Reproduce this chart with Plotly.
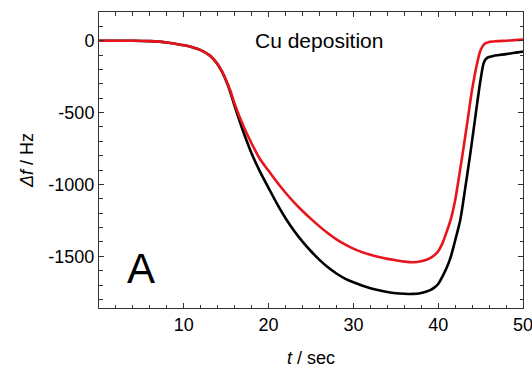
import plotly.graph_objects as go

# time axis (s) and frequency shift (Hz)
t_black = [0, 2, 4, 6, 8, 10, 11, 12, 13, 13.5, 14, 14.5, 15, 15.5, 16,
           17, 18, 19, 20, 21, 22, 23, 24, 25, 26, 27, 28, 29, 30, 31, 32, 33, 34, 35, 36, 37, 38, 39,
           39.5, 40, 40.5, 41, 41.5, 42, 42.6, 43, 43.8, 44.6, 45, 45.4, 45.8, 46.5, 47, 48, 49, 50]
df_black = [0, 0, 0, -3, -12, -32, -45, -65, -100, -128, -165, -215, -280, -360, -455,
            -630, -785, -913, -1025, -1135, -1235, -1322, -1398, -1465, -1525, -1577, -1620, -1655,
            -1681, -1703, -1722, -1737, -1749, -1757, -1761, -1762, -1755, -1737,
            -1720, -1693, -1641, -1580, -1500, -1390, -1247, -1100, -780, -434, -270, -150, -118,
            -106, -101, -93, -84, -76]

t_red = [0, 2, 4, 6, 8, 10, 11, 12, 13, 13.5, 14, 14.5, 15, 15.5, 16,
         17, 18, 19, 20, 21, 22, 23, 24, 25, 26, 27, 28, 29, 30, 31, 32, 33, 34, 35, 36, 37, 38, 39,
         39.5, 40, 40.5, 41, 41.5, 42, 42.5, 43, 43.5, 44, 44.6, 45, 45.5, 46, 47, 48, 49, 50]
df_red = [0, 0, 0, -3, -12, -32, -45, -65, -100, -128, -165, -213, -275, -350, -440,
          -590, -715, -825, -905, -985, -1058, -1125, -1185, -1240, -1292, -1340, -1382, -1417,
          -1447, -1471, -1490, -1505, -1518, -1528, -1537, -1542, -1535, -1515,
          -1495, -1465, -1410, -1330, -1240, -1110, -930, -740, -540, -340, -155, -65, -20,
          -8, -3, 0, 4, 8]

x_ticks = [10, 20, 30, 40, 50]
y_ticks = [0, -500, -1000, -1500]
y_tick_text = ["0", "-500", "-1000", "-1500"]

FONT = "Liberation Sans, Arial, sans-serif"

fig = go.Figure()
fig.add_trace(go.Scatter(x=t_black, y=df_black, mode="lines",
                         line=dict(color="black", width=2.6, shape="spline", smoothing=0.8)))
fig.add_trace(go.Scatter(x=t_red, y=df_red, mode="lines",
                         line=dict(color="#e8141b", width=2.6, shape="spline", smoothing=0.8)))

axis_common = dict(
    showline=True, linecolor="#333333", linewidth=1, mirror="ticks",
    ticks="inside", ticklen=5, tickwidth=1, tickcolor="#333333",
    showgrid=False, zeroline=False, ticklabeloverflow="allow", automargin=False,
    tickfont=dict(family=FONT, size=18, color="black"),
)

fig.update_xaxes(
    range=[0, 50], tickvals=x_ticks, ticktext=[str(v) for v in x_ticks],
    minor=dict(dtick=2, ticks="inside", ticklen=3.5, tickcolor="#333333", showgrid=False),
    title=dict(text="<i>t</i> / sec", font=dict(family=FONT, size=18, color="black"), standoff=17),
    **axis_common,
)
fig.update_yaxes(
    range=[-1860, 200], tickvals=y_ticks, ticktext=y_tick_text,
    minor=dict(dtick=100, ticks="inside", ticklen=3.5, tickcolor="#333333", showgrid=False),
    title=dict(text="<i>Δf</i> / Hz", font=dict(family=FONT, size=18, color="black"), standoff=10),
    **axis_common,
)

fig.add_annotation(x=25.9, y=5, xref="x", yref="y", text="Cu deposition", showarrow=False,
                   font=dict(family=FONT, size=21, color="black"), xanchor="center", yanchor="middle")
fig.add_annotation(x=4.9, y=-1585, xref="x", yref="y", text="A", showarrow=False,
                   font=dict(family=FONT, size=42, color="black"), xanchor="center", yanchor="middle")

fig.update_layout(
    width=532, height=368, showlegend=False,
    margin=dict(l=99, r=9, t=12, b=60),
    plot_bgcolor="white", paper_bgcolor="white",
)

fig.write_html("out.html")
